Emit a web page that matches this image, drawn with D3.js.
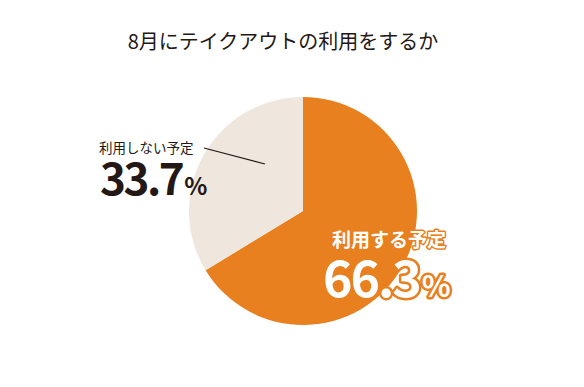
<!DOCTYPE html>
<html><head><meta charset="utf-8">
<script src="https://cdn.jsdelivr.net/npm/d3@7"></script>
<style>
html,body{margin:0;padding:0;background:#fff;}
svg{display:block;font-family:"Noto Sans CJK JP","Noto Sans",sans-serif;}
</style></head>
<body>
<svg id="c" width="584" height="387"></svg>
<script>
const categories = ["利用する予定", "利用しない予定"];
const values = [66.3, 33.7];
const colors = ["#E8801F", "#EFE6DE"];
const title = "8月にテイクアウトの利用をするか";

const svg = d3.select("#c");
const cx = 303, cy = 211, r = 114;

svg.append("text").attr("x", 283).attr("y", 49).attr("text-anchor", "middle")
  .attr("font-size", 20).attr("font-weight", 400).attr("fill", "#231815").text(title);

const pie = d3.pie().sort(null).value(d => d)(values);
const arc = d3.arc().innerRadius(0).outerRadius(r);
const g = svg.append("g").attr("transform", `translate(${cx},${cy})`);
g.selectAll("path").data(pie).join("path").attr("d", arc).attr("fill", (d, i) => colors[i]);

// leader line
svg.append("line").attr("x1", 204).attr("y1", 148).attr("x2", 265).attr("y2", 164)
  .attr("stroke", "#231815").attr("stroke-width", 1.2);

// label for 利用しない予定
svg.append("text").attr("x", 99).attr("y", 153).attr("font-size", 13.5).attr("font-weight", 400)
  .attr("fill", "#231815").text(categories[1]);
const t2 = svg.append("text").attr("x", 100).attr("y", 195).attr("fill", "#231815").attr("font-weight", 700);
t2.append("tspan").attr("font-size", 44).attr("letter-spacing", -2.5).text(values[1].toFixed(1));
t2.append("tspan").attr("font-size", 24).attr("dx", 2).text("%");

// label for 利用する予定
svg.append("text").attr("x", 332).attr("y", 247).attr("font-size", 19).attr("font-weight", 700)
  .attr("fill", "#fff").attr("stroke", "#E8801F").attr("stroke-width", 3).attr("paint-order", "stroke")
  .attr("stroke-linejoin", "round").text(categories[0]);
const t1 = svg.append("text").attr("x", 323).attr("y", 297).attr("fill", "#fff").attr("font-weight", 700)
  .attr("stroke", "#E8801F").attr("stroke-width", 5).attr("paint-order", "stroke").attr("stroke-linejoin", "round");
t1.append("tspan").attr("font-size", 50).attr("letter-spacing", -2).text(values[0].toFixed(1));
t1.append("tspan").attr("font-size", 30).attr("dx", 2).text("%");
</script>
</body></html>
